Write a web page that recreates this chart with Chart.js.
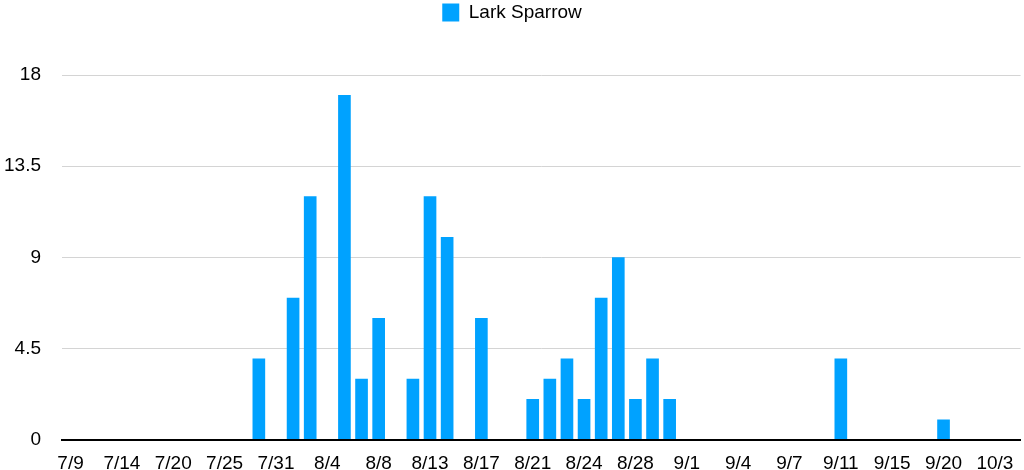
<!DOCTYPE html>
<html>
<head>
<meta charset="utf-8">
<title>Lark Sparrow</title>
<script src="https://cdn.jsdelivr.net/npm/chart.js@4.4.1/dist/chart.umd.min.js"></script>
<style>
  html, body { margin: 0; padding: 0; background: #fff; }
  #wrap { width: 1024px; height: 470px; position: relative; }
</style>
</head>
<body>
<div id="wrap"><canvas id="chart"></canvas></div>
<script>
// tick labels shown under the axis, one every 3 observation slots
const tickLabels = ['7/9', '7/14', '7/20', '7/25', '7/31', '8/4', '8/8', '8/13', '8/17', '8/21',
  '8/24', '8/28', '9/1', '9/4', '9/7', '9/11', '9/15', '9/20', '10/3'];

// counts per observation slot (3 slots per tick label)
const counts = [
  0, 0, 0,    // 7/9
  0, 0, 0,    // 7/14
  0, 0, 0,    // 7/20
  0, 0, 4,    // 7/25
  0, 7, 12,   // 7/31
  0, 17, 3,   // 8/4
  6, 0, 3,    // 8/8
  12, 10, 0,  // 8/13
  6, 0, 0,    // 8/17
  2, 3, 4,    // 8/21
  2, 7, 9,    // 8/24
  2, 4, 2,    // 8/28
  0, 0, 0,    // 9/1
  0, 0, 0,    // 9/4
  0, 0, 0,    // 9/7
  4, 0, 0,    // 9/11
  0, 0, 0,    // 9/15
  1, 0, 0,    // 9/20
  0, 0        // 10/3
];

const yTicks = [0, 4.5, 9, 13.5, 18];

const categories = counts.map((_, i) => (i % 3 === 0 ? tickLabels[i / 3] : ''));

const FONT = '"Liberation Sans", Helvetica, Arial, sans-serif';

// extra room under the legend
const legendGap = {
  id: 'legendGap',
  beforeInit(chart) {
    const fit = chart.legend.fit;
    chart.legend.fit = function () {
      fit.bind(chart.legend)();
      this.height += 43;
    };
  }
};

new Chart(document.getElementById('chart'), {
  type: 'bar',
  data: {
    labels: categories,
    datasets: [{
      label: 'Lark Sparrow',
      data: counts.map(v => (v === 0 ? null : v)), // empty slots draw nothing
      backgroundColor: '#00a2ff',
      borderWidth: 0,
      barThickness: 12
    }]
  },
  options: {
    responsive: true,
    maintainAspectRatio: false,
    animation: false,
    layout: { padding: 0 },
    plugins: {
      legend: {
        position: 'top',
        labels: {
          boxWidth: 17,
          boxHeight: 18,
          padding: 3,
          color: '#000',
          font: { family: FONT, size: 19 }
        }
      },
      tooltip: { enabled: false }
    },
    scales: {
      x: {
        afterFit(scale) { scale.height = 30; },
        grid: { display: false, drawTicks: false },
        border: { display: true, color: '#000', width: 2, z: 1 },
        ticks: {
          autoSkip: false,
          maxRotation: 0,
          padding: 12,
          color: '#000',
          font: { family: FONT, size: 19 }
        }
      },
      y: {
        min: yTicks[0],
        max: yTicks[yTicks.length - 1],
        afterFit(scale) {
          scale.width = 62;
          // don't let the tick padding push the plot area up
          scale.paddingTop = 0;
          scale.paddingBottom = 0;
        },
        afterBuildTicks(scale) { scale.ticks = yTicks.map(v => ({ value: v })); },
        grid: {
          drawTicks: false,
          color: ctx => (ctx.tick && ctx.tick.value === 0 ? 'rgba(0,0,0,0)' : '#d4d4d4'),
          lineWidth: 1
        },
        border: { display: false },
        ticks: {
          padding: 21,
          color: '#000',
          font: { family: FONT, size: 19 }
        }
      }
    }
  },
  plugins: [legendGap]
});
</script>
</body>
</html>
